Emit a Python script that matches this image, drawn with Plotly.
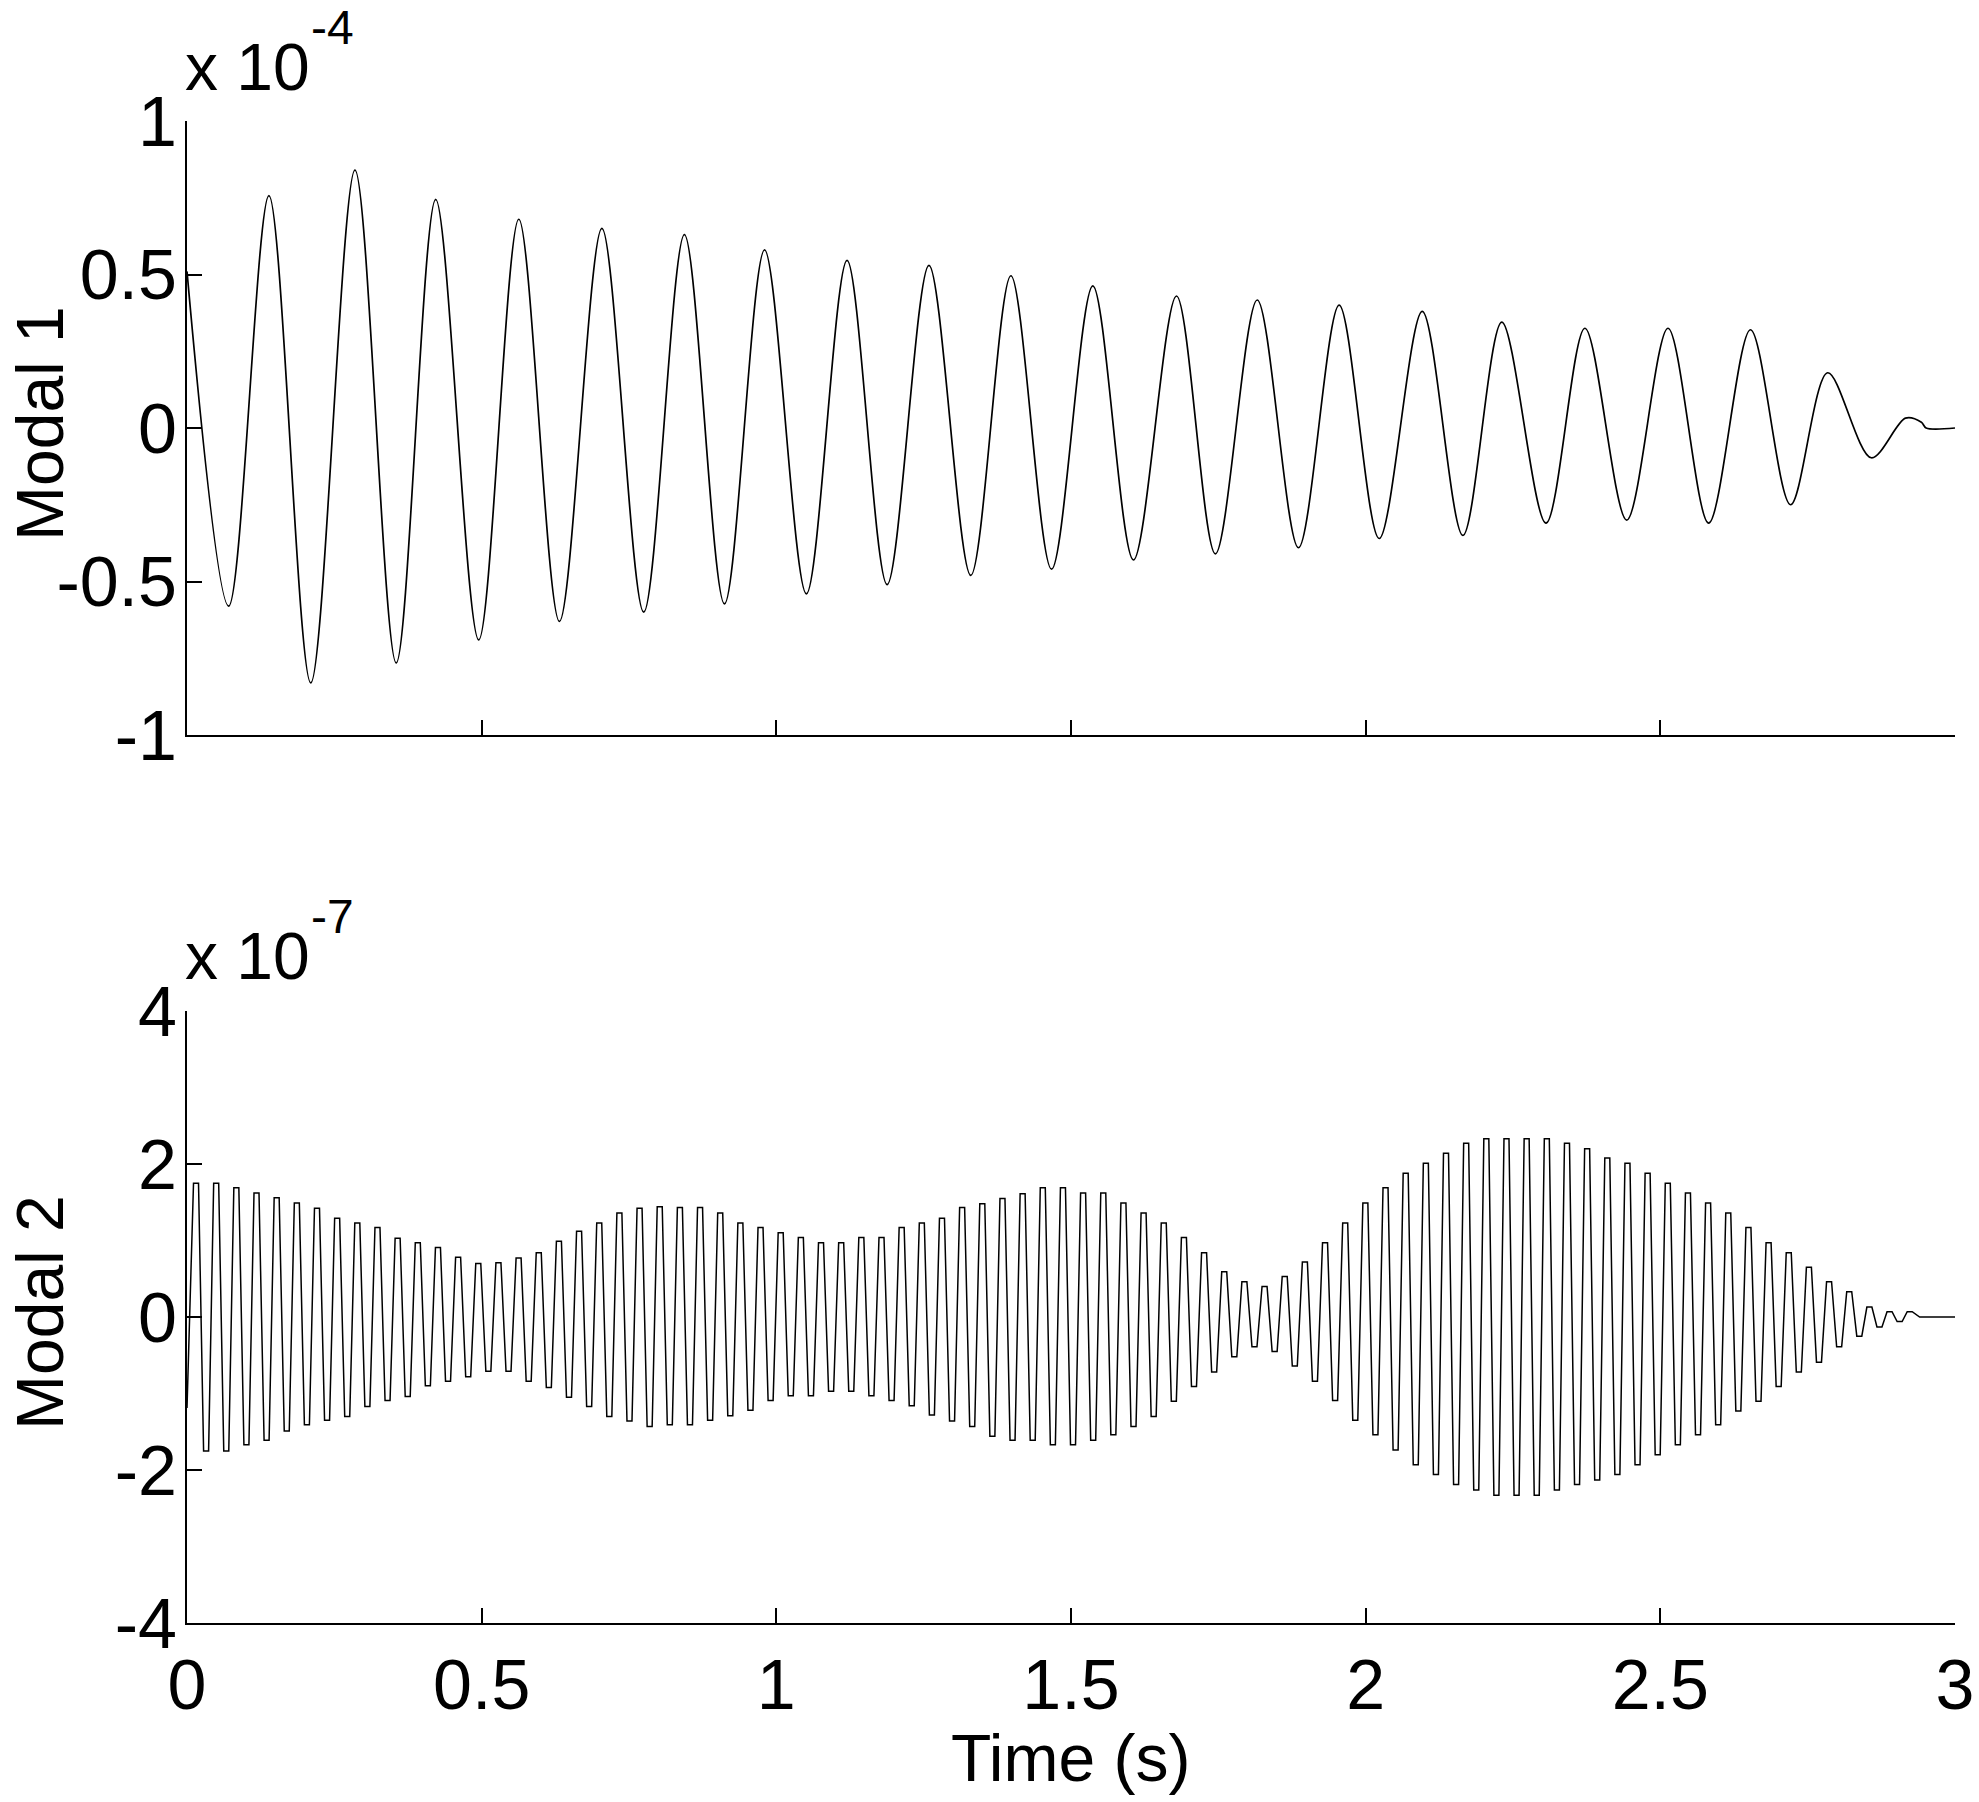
import numpy as np
import plotly.graph_objects as go

# ---------------- data ----------------
# Modal 1 (x 1e-4): times (s) and values at extrema of the decaying oscillation
modal1_t = [0.0, 0.0707, 0.139, 0.21, 0.285, 0.355, 0.422, 0.495, 0.563, 0.632,
            0.704, 0.775, 0.844, 0.912, 0.98, 1.051, 1.12, 1.188, 1.259, 1.33,
            1.398, 1.467, 1.537, 1.606, 1.679, 1.745, 1.816, 1.886, 1.955, 2.023,
            2.096, 2.165, 2.231, 2.306, 2.372, 2.443, 2.513, 2.582, 2.653, 2.721,
            2.784, 2.858, 2.916, 2.943, 2.951, 3.0]
modal1_v = [0.51, -0.58, 0.757, -0.83, 0.84, -0.765, 0.745, -0.69, 0.68, -0.63,
            0.65, -0.60, 0.63, -0.573, 0.58, -0.54, 0.546, -0.51, 0.53, -0.48,
            0.496, -0.46, 0.463, -0.43, 0.43, -0.41, 0.417, -0.39, 0.40, -0.36,
            0.38, -0.35, 0.345, -0.31, 0.325, -0.30, 0.325, -0.31, 0.32, -0.25,
            0.18, -0.097, 0.032, 0.0185, 0.0, 0.0]

# Modal 2 (x 1e-7): one positive peak and one negative trough per cycle
modal2_start = (0.0, -1.19)
modal2_t0 = 0.0153        # time of first peak (s)
modal2_period = 0.03421   # oscillation period (s)
modal2_hold = 0.0085      # width of the flat top / bottom of each peak (s)
modal2_peaks = [1.75, 1.75, 1.69, 1.62, 1.56, 1.49, 1.42, 1.29, 1.23, 1.17,
                1.03, 0.97, 0.91, 0.78, 0.70, 0.71, 0.77, 0.84, 0.99, 1.12,
                1.23, 1.36, 1.42, 1.44, 1.43, 1.43, 1.36, 1.23, 1.17, 1.10,
                1.04, 0.97, 0.97, 1.04, 1.04, 1.17, 1.23, 1.29, 1.43, 1.48,
                1.55, 1.61, 1.69, 1.69, 1.62, 1.62, 1.49, 1.36, 1.23, 1.04,
                0.84, 0.59, 0.46, 0.40, 0.53, 0.72, 0.97, 1.23, 1.49, 1.69,
                1.88, 2.01, 2.14, 2.27, 2.33, 2.33, 2.33, 2.33, 2.27, 2.20,
                2.08, 2.01, 1.88, 1.75, 1.62, 1.49, 1.36, 1.17, 0.97, 0.84,
                0.65, 0.46, 0.33, 0.13, 0.07, 0.07]
modal2_troughs = [-1.75, -1.75, -1.67, -1.61, -1.49, -1.41, -1.35, -1.30, -1.17, -1.09,
                  -1.04, -0.90, -0.84, -0.78, -0.71, -0.71, -0.84, -0.92, -1.05, -1.17,
                  -1.30, -1.36, -1.43, -1.41, -1.41, -1.35, -1.29, -1.22, -1.09, -1.03,
                  -1.03, -0.97, -0.97, -1.03, -1.09, -1.16, -1.28, -1.36, -1.43, -1.56,
                  -1.61, -1.61, -1.67, -1.67, -1.61, -1.54, -1.43, -1.30, -1.10, -0.91,
                  -0.72, -0.52, -0.39, -0.45, -0.64, -0.84, -1.09, -1.35, -1.54, -1.74,
                  -1.93, -2.06, -2.19, -2.26, -2.33, -2.33, -2.33, -2.26, -2.19, -2.13,
                  -2.06, -1.93, -1.80, -1.67, -1.54, -1.41, -1.23, -1.10, -0.91, -0.72,
                  -0.59, -0.39, -0.25, -0.13, -0.06]
modal2_end = [(2.94, 0.0), (3.0, 0.0)]

x_ticks = [0, 0.5, 1, 1.5, 2, 2.5, 3]
x_ticktext = ["0", "0.5", "1", "1.5", "2", "2.5", "3"]
y1_ticks = [-1, -0.5, 0, 0.5, 1]
y1_ticktext = ["-1", "-0.5", "0", "0.5", "1"]
y2_ticks = [-4, -2, 0, 2, 4]
y2_ticktext = ["-4", "-2", "0", "2", "4"]

# ---------------- build modal 2 sequence (each extreme held briefly) ----------------
t2 = [modal2_start[0]]
v2 = [modal2_start[1]]
h = modal2_hold / 2
for k, pk in enumerate(modal2_peaks):
    tp = modal2_t0 + k * modal2_period
    t2 += [max(tp - h, 0.0), tp + h]
    v2 += [pk, pk]
    if k < len(modal2_troughs):
        tb = tp + modal2_period / 2
        t2 += [tb - h, tb + h]
        v2 += [modal2_troughs[k], modal2_troughs[k]]
for te, ve in modal2_end:
    t2.append(te)
    v2.append(ve)

# ---------------- figure ----------------
W, H = 1979, 1802
AX_L, AX_R = 187, 1955          # px of x = 0 and x = 3
TOP_Y1, BOT_Y1 = 121, 735       # px of top panel y = 1 and y = -1
TOP_Y2, BOT_Y2 = 1011, 1623     # px of bottom panel y = 4 and y = -4
L, R = AX_L, W - AX_R
T, B = TOP_Y1, H - BOT_Y2
PW, PH = W - L - R, H - T - B
FONT = "Liberation Sans, Arial, sans-serif"
FS_TICK = 70
FS = 66


def px_x(px):
    return (px - L) / PW


def px_y(py):
    return (H - B - py) / PH


fig = go.Figure()
fig.add_trace(go.Scatter(x=modal1_t, y=modal1_v, mode="lines",
                         line=dict(color="black", width=1.7, shape="spline", smoothing=0.9),
                         xaxis="x", yaxis="y", showlegend=False, hoverinfo="skip"))
fig.add_trace(go.Scatter(x=t2, y=v2, mode="lines",
                         line=dict(color="black", width=1.5),
                         xaxis="x2", yaxis="y2", showlegend=False, hoverinfo="skip"))

axis_common = dict(showgrid=False, zeroline=False, showline=True, linecolor="black",
                   linewidth=2, ticks="inside", ticklen=15, tickwidth=2, tickcolor="black",
                   tickfont=dict(family=FONT, size=FS_TICK, color="black"), mirror=False)

top_lo = px_y(BOT_Y1)
bot_hi = px_y(TOP_Y2)

fig.update_layout(
    width=W, height=H,
    paper_bgcolor="white", plot_bgcolor="white",
    margin=dict(l=L, r=R, t=T, b=B, autoexpand=False),
    font=dict(family=FONT, size=FS, color="black"),
    xaxis=dict(domain=[0, 1], anchor="y", range=[0, 3], tickvals=x_ticks,
               showticklabels=False, **axis_common),
    yaxis=dict(domain=[top_lo, 1], anchor="x", range=[-1, 1], tickvals=y1_ticks,
               ticktext=y1_ticktext, ticklabelstandoff=-6, **axis_common),
    xaxis2=dict(domain=[0, 1], anchor="y2", range=[0, 3], tickvals=x_ticks,
                ticktext=x_ticktext, ticklabelstandoff=0, **axis_common),
    yaxis2=dict(domain=[0, bot_hi], anchor="x2", range=[-4, 4], tickvals=y2_ticks,
                ticktext=y2_ticktext, ticklabelstandoff=-6, **axis_common),
)

ann = []
# exponent labels
for base_y, exp_y, exp_txt in [(67, 27, "-4"), (956, 916, "-7")]:
    ann.append(dict(x=px_x(AX_L - 4), y=px_y(base_y), xref="paper", yref="paper",
                    text="x 10", showarrow=False, xanchor="left", yanchor="middle",
                    font=dict(family=FONT, size=FS, color="black")))
    ann.append(dict(x=px_x(309), y=px_y(exp_y), xref="paper", yref="paper",
                    text=exp_txt, showarrow=False, xanchor="left", yanchor="middle",
                    font=dict(family=FONT, size=48, color="black")))
# axis titles
ann.append(dict(x=px_x(40), y=px_y(424), xref="paper", yref="paper", text="Modal 1",
                textangle=-90, showarrow=False, xanchor="center", yanchor="middle",
                font=dict(family=FONT, size=FS, color="black")))
ann.append(dict(x=px_x(40), y=px_y(1313), xref="paper", yref="paper", text="Modal 2",
                textangle=-90, showarrow=False, xanchor="center", yanchor="middle",
                font=dict(family=FONT, size=FS, color="black")))
ann.append(dict(x=px_x(1071), y=px_y(1758), xref="paper", yref="paper", text="Time (s)",
                showarrow=False, xanchor="center", yanchor="middle",
                font=dict(family=FONT, size=FS, color="black")))
fig.update_layout(annotations=ann)

# place the figure at the page corner (no default 8px body margin), no mode bar
fig.write_html("out.html", config={"displayModeBar": False},
               post_script="document.body.style.margin='0';")
